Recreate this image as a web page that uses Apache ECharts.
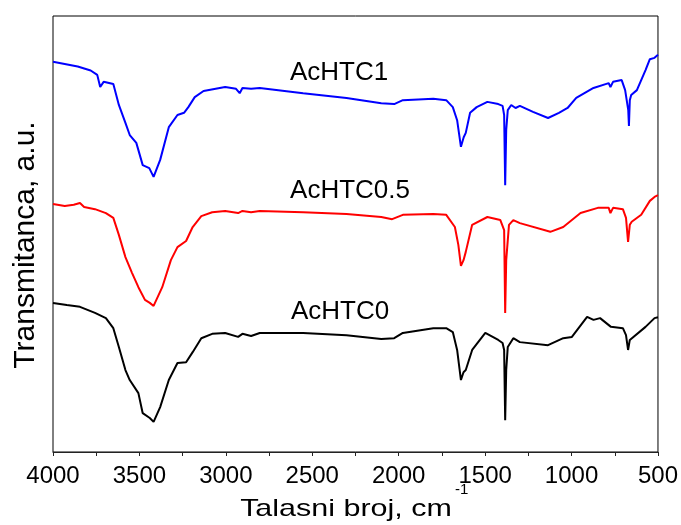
<!DOCTYPE html>
<html>
<head>
<meta charset="utf-8">
<script src="https://cdn.jsdelivr.net/npm/echarts@6/dist/echarts.min.js"></script>
<style>html,body{margin:0;padding:0;background:#fff;}#c{width:681px;height:525px;}</style>
</head>
<body>
<div id="c"></div>
<script>
// Wavenumbers (cm-1) and transmittance (arbitrary units, 0-100 scale of plot height)
var wnBlue = [4000,3857,3782,3744,3727,3707,3651,3619,3581,3556,3518,3481,3443,3418,3380,3330,3280,3242,3217,3180,3129,3004,2941,2920,2904,2854,2804,2553,2302,2101,2026,1976,1800,1725,1687,1662,1640,1624,1612,1587,1549,1487,1424,1399,1390,1384,1378,1369,1349,1324,1299,1223,1136,1073,1023,973,873,785,775,760,710,690,672,668,663,655,622,572,547,520,500];
var tBlue  = [89.5,88.4,87.5,86.5,83.7,84.9,84.4,79.6,75.5,72.7,70.9,65.8,65.1,63.1,67.0,74.5,77.3,77.8,79.1,81.4,82.8,83.7,83.3,82.3,83.5,83.3,83.5,82.3,81.2,80.0,79.8,80.7,81.0,80.7,79.1,76.1,70.0,72.2,73.2,77.8,79.1,80.3,79.8,79.4,77.3,61.2,73.9,78.4,79.6,78.9,79.4,78.0,76.6,77.8,78.9,81.2,83.5,84.6,83.7,84.9,85.3,83.0,78.4,74.8,80.7,81.9,83.0,87.6,90.1,90.4,91.1];

var wnRed = [4000,3932,3880,3844,3820,3757,3694,3651,3619,3581,3543,3506,3468,3440,3418,3368,3318,3280,3230,3192,3142,3079,3004,2929,2904,2854,2804,2553,2302,2101,2038,1976,1800,1725,1675,1655,1640,1625,1612,1575,1487,1412,1390,1384,1378,1362,1337,1299,1123,1048,948,848,785,775,760,703,685,673,663,652,597,547,520,500];
var tRed  = [56.9,56.4,56.7,57.1,56.2,55.7,54.8,53.7,49.8,44.7,41.1,37.8,34.9,34.2,33.5,37.8,44.0,47.0,48.4,51.6,54.1,55.0,55.3,54.8,55.3,55.0,55.3,55.0,54.6,53.9,53.4,54.4,54.6,54.4,51.6,47.5,42.7,44.0,45.9,52.1,53.9,53.2,50.9,31.9,44.0,52.1,53.2,52.5,50.5,51.6,54.8,56.0,56.0,54.8,56.0,55.7,53.7,48.2,52.1,52.8,54.4,57.6,58.5,58.9];

var wnBlack = [4000,3920,3844,3757,3694,3651,3619,3581,3556,3506,3481,3440,3418,3380,3330,3280,3230,3192,3142,3079,3004,2929,2904,2854,2804,2553,2302,2101,2026,1976,1800,1725,1687,1662,1640,1625,1612,1575,1499,1424,1399,1390,1384,1378,1369,1337,1299,1136,1048,998,910,873,835,772,703,685,673,663,652,572,520,500];
var tBlack  = [34.2,33.7,33.3,31.9,30.7,28.4,24.1,18.8,16.5,13.5,8.9,7.8,6.9,10.3,16.5,20.4,20.6,22.9,26.1,27.1,27.3,26.4,27.1,26.6,27.3,27.3,26.8,25.9,26.1,27.3,28.4,28.4,27.5,23.4,16.5,18.3,18.8,23.4,27.3,25.7,25.0,23.4,7.3,18.8,24.1,26.1,25.2,24.5,26.1,26.4,31.0,30.3,30.7,28.7,28.4,26.8,23.4,25.7,26.1,28.7,30.7,30.9];

var seriesNames = ['AcHTC1','AcHTC0.5','AcHTC0'];
var xTicks = [4000,3500,3000,2500,2000,1500,1000,500];

function pairs(xs, ys){ return xs.map(function(x,i){ return [x, ys[i]]; }); }

var font = "'Liberation Sans', Arial, sans-serif";
var chart = echarts.init(document.getElementById('c'), null, {renderer:'canvas'});
chart.setOption({
  animation:false,
  backgroundColor:'#fff',
  grid:{left:53, right:21, top:16, bottom:73, show:true, borderColor:'#000', borderWidth:1, backgroundColor:'transparent'},
  xAxis:{
    type:'value', min:500, max:4000, interval:250, inverse:true,
    axisLine:{show:true, lineStyle:{color:'#222', width:1}},
    axisTick:{show:true, inside:false, length:4, lineStyle:{color:'#222', width:1}},
    axisLabel:{margin:12, fontSize:24, color:'#000', fontFamily:font,
      formatter:function(v){ return xTicks.indexOf(v) >= 0 ? String(v) : ''; }},
    splitLine:{show:false}
  },
  yAxis:{
    type:'value', min:0, max:100,
    axisLine:{show:false}, axisTick:{show:false}, axisLabel:{show:false}, splitLine:{show:false}
  },
  series:[
    {name:seriesNames[0], type:'line', data:pairs(wnBlue,tBlue), showSymbol:false, lineStyle:{color:'#0000ff', width:2}, itemStyle:{color:'#0000ff'}},
    {name:seriesNames[1], type:'line', data:pairs(wnRed,tRed), showSymbol:false, lineStyle:{color:'#ff0000', width:2}, itemStyle:{color:'#ff0000'}},
    {name:seriesNames[2], type:'line', data:pairs(wnBlack,tBlack), showSymbol:false, lineStyle:{color:'#000000', width:2}, itemStyle:{color:'#000'}}
  ],
  graphic:[
    {type:'text', x:339, y:73, style:{text:seriesNames[0], font:'26px '+font, fill:'#000', align:'center', verticalAlign:'middle'}},
    {type:'text', x:350, y:191, style:{text:seriesNames[1], font:'26px '+font, fill:'#000', align:'center', verticalAlign:'middle'}},
    {type:'text', x:340, y:312, style:{text:seriesNames[2], font:'26px '+font, fill:'#000', align:'center', verticalAlign:'middle'}},
    {type:'text', x:346, y:509, scaleX:1.27, style:{text:'Talasni broj, cm', font:'24px '+font, fill:'#000', align:'center', verticalAlign:'middle'}},
    {type:'text', x:455, y:482, style:{text:'-1', font:'15px '+font, fill:'#000', align:'left', verticalAlign:'top'}},
    {type:'text', x:26, y:245, rotation:Math.PI/2, style:{text:'Transmitanca, a.u.', font:'30px '+font, fill:'#000', align:'center', verticalAlign:'middle'}}
  ]
});
</script>
</body>
</html>
